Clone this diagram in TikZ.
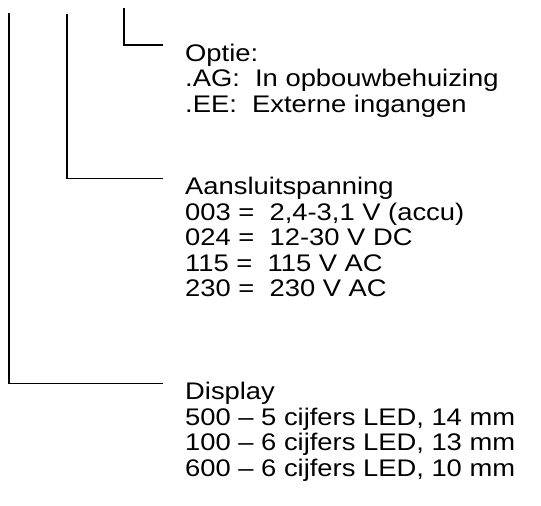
\documentclass[tikz,border=0pt]{standalone}
\usepackage{fontspec}
\setmainfont{Liberation Sans}
\newfontfamily\widesans[FakeStretch=1.14]{Liberation Sans}
\usepackage{tikz}
\usetikzlibrary{positioning}

\begin{document}
\begin{tikzpicture}[
  x=1pt, y=-1pt,
  txt/.style={inner sep=0pt, anchor=base west, font=\widesans\fontsize{24}{25.5}\selectfont},
  head/.style={txt, text height=17pt, text depth=0pt},
  lead/.style={line width=1.6pt, shorten >=22pt}
]
  \useasboundingbox (0,0) rectangle (541,506);

  % tops of the three leads
  \coordinate (tDisp) at (9,13);
  \coordinate (tSpan) at (67,14);
  \coordinate (tOpt) at (124,8);

  % Optie block
  \node[head] (opt) at (185,61) {Optie:};
  \node[txt] (ag) at (185,86.5) {.AG:\ \ In opbouwbehuizing};
  \node[txt] (ee) at (185,112) {.EE:\ \ Externe ingangen};

  % Aansluitspanning block
  \node[head] (span) at (185,194.5) {Aansluitspanning};
  \node[txt] (v003) at (185,220) {003 =\ \ 2,4-3,1 V (accu)};
  \node[txt] (v024) at (185,245.5) {024 =\ \ 12-30 V DC};
  \node[txt] (v115) at (185,271) {115 =\ \ 115 V AC};
  \node[txt] (v230) at (185,296.5) {230 =\ \ 230 V AC};

  % Display block
  \node[head] (disp) at (185,399.5) {Display};
  \node[txt] (d500) at (185,425) {500 – 5 cijfers LED, 14 mm};
  \node[txt] (d100) at (185,450.5) {100 – 6 cijfers LED, 13 mm};
  \node[txt] (d600) at (185,476) {600 – 6 cijfers LED, 10 mm};

  % leads
  \draw[lead] (tOpt) |- ([yshift=-1pt]opt.north west);
  \draw[lead] (tSpan) |- ([yshift=-1pt]span.north west);
  \draw[lead] (tDisp) |- ([yshift=-1pt]disp.north west);
\end{tikzpicture}
\end{document}
